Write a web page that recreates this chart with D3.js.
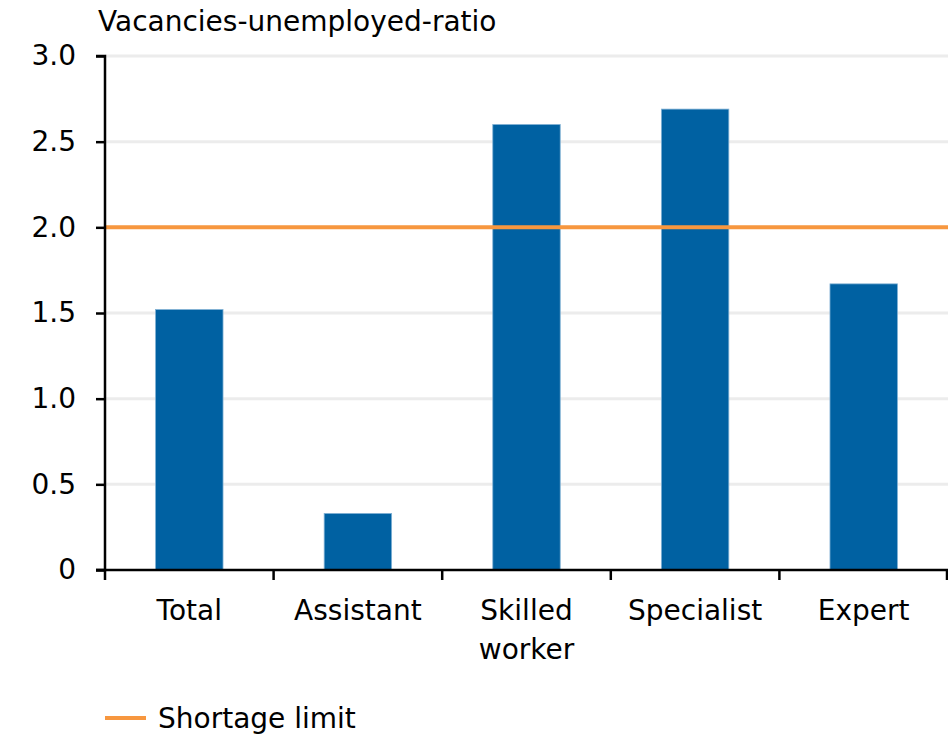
<!DOCTYPE html>
<html>
<head>
<meta charset="utf-8">
<script src="https://cdn.jsdelivr.net/npm/d3@7"></script>
<style>
  body { margin: 0; background: #fff; }
  svg text { font-family: "DejaVu Sans", sans-serif; fill: #000; }
</style>
</head>
<body>
<svg id="chart" width="948" height="736"></svg>
<script>
// data
const categories = ["Total", "Assistant", "Skilled worker", "Specialist", "Expert"];
const categoryLines = [["Total"], ["Assistant"], ["Skilled", "worker"], ["Specialist"], ["Expert"]];
const ratios = [1.52, 0.33, 2.6, 2.69, 1.67];
const shortageLimit = 2.0;
const yTicks = [0, 0.5, 1.0, 1.5, 2.0, 2.5, 3.0];
const yTickLabels = ["0", "0.5", "1.0", "1.5", "2.0", "2.5", "3.0"];

const svg = d3.select("#chart");
const margin = { left: 105, right: 0, top: 56, bottom: 166 };
const width = 948, height = 736;
const fontSize = 28;

let x = d3.scaleBand()
    .domain(categories)
    .range([margin.left, width - margin.right])
    .padding(0);

let y = d3.scaleLinear()
    .domain([0, 3])
    .range([height - margin.bottom, margin.top]);

// gridlines
svg.append("g")
    .selectAll("line")
    .data(yTicks.filter(d => d > 0))
    .join("line")
    .attr("x1", margin.left)
    .attr("x2", width)
    .attr("y1", d => y(d))
    .attr("y2", d => y(d))
    .attr("stroke", "#ececec")
    .attr("stroke-width", 3);

// bars
const barW = x.bandwidth() * 0.4;
svg.append("g")
    .selectAll("rect")
    .data(ratios)
    .join("rect")
    .attr("x", (d, i) => x(categories[i]) + (x.bandwidth() - barW) / 2)
    .attr("y", d => y(d))
    .attr("width", barW)
    .attr("height", d => y(0) - y(d))
    .attr("fill", "#0061a2")
    .attr("stroke", "#7fb0d4")
    .attr("stroke-width", 0.8);

// shortage limit line
svg.append("line")
    .attr("x1", margin.left)
    .attr("x2", width)
    .attr("y1", y(shortageLimit))
    .attr("y2", y(shortageLimit))
    .attr("stroke", "#f7973f")
    .attr("stroke-width", 4);

// y axis
let yAxis = d3.axisLeft(y)
    .tickValues(yTicks)
    .tickFormat((d, i) => yTickLabels[i])
    .tickSize(9)
    .tickPadding(20);

let yG = svg.append("g")
    .attr("transform", `translate(${margin.left},0)`)
    .call(yAxis);
yG.select(".domain").attr("stroke", "#000").attr("stroke-width", 2.5).attr("d", `M-9,${y(3)}H0V${y(0)}H-9`);
yG.selectAll(".tick line").attr("stroke", "#000").attr("stroke-width", 2.5);
yG.selectAll(".tick text").attr("font-size", fontSize).style("font-family", "DejaVu Sans, sans-serif");

// x axis: baseline with ticks at category boundaries
let xG = svg.append("g");
xG.append("line")
    .attr("x1", margin.left - 9)
    .attr("x2", width)
    .attr("y1", y(0))
    .attr("y2", y(0))
    .attr("stroke", "#000")
    .attr("stroke-width", 2.5);

const bounds = categories.map(c => x(c)).concat([width - 1]);
xG.selectAll(".xtick")
    .data(bounds)
    .join("line")
    .attr("x1", d => d)
    .attr("x2", d => d)
    .attr("y1", y(0))
    .attr("y2", y(0) + 10)
    .attr("stroke", "#000")
    .attr("stroke-width", 2.5);

xG.selectAll(".xlabel")
    .data(categoryLines)
    .join("text")
    .attr("text-anchor", "middle")
    .attr("font-size", fontSize)
    .attr("x", (d, i) => x(categories[i]) + x.bandwidth() / 2)
    .attr("y", 620)
    .each(function(lines) {
        d3.select(this).selectAll("tspan")
            .data(lines)
            .join("tspan")
            .attr("x", d3.select(this).attr("x"))
            .attr("dy", (d, j) => j === 0 ? 0 : 39)
            .text(d => d);
    });

// axis title
svg.append("text")
    .attr("x", 98)
    .attr("y", 31)
    .attr("font-size", fontSize)
    .text("Vacancies-unemployed-ratio");

// legend
svg.append("line")
    .attr("x1", 105)
    .attr("x2", 146)
    .attr("y1", 718)
    .attr("y2", 718)
    .attr("stroke", "#f7973f")
    .attr("stroke-width", 4);
svg.append("text")
    .attr("x", 158)
    .attr("y", 728)
    .attr("font-size", fontSize)
    .text("Shortage limit");
</script>
</body>
</html>
